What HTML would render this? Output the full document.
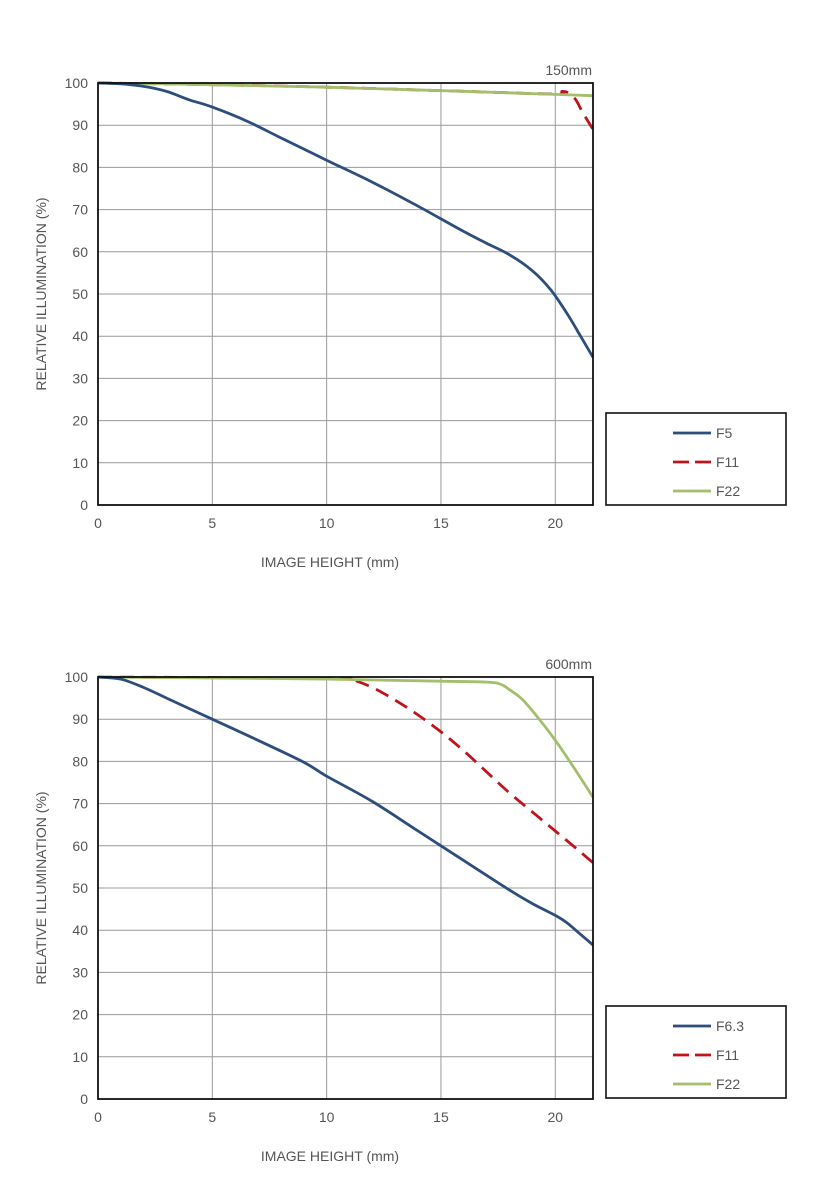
<!DOCTYPE html>
<html><head><meta charset="utf-8">
<style>
html,body{margin:0;padding:0;background:#fff;width:814px;height:1200px;overflow:hidden}
svg{display:block}
text{font-family:"Liberation Sans",sans-serif;fill:#555}
</style></head>
<body>
<svg id="svg" width="814" height="1200"></svg>
<script>
const xTicks=[0,5,10,15,20];
const yTicks=[0,10,20,30,40,50,60,70,80,90,100];
// Chart 1 (150mm)
const c1Labels=["F5","F11","F22"];
const c1F5x=[0,1,2,3,4,5,6.5,8,10,12,14,15,16,17,18,19,19.8,20.5,21,21.65];
const c1F5y=[100,99.8,99.2,98,96,94.3,91,87,81.7,76.5,70.8,67.8,64.8,62,59.3,55.5,51,45.5,41,35];
const c1F11x=[0,5,10,15,19.9,20.3,20.6,20.9,21.2,21.65];
const c1F11y=[100,99.6,99,98.2,97.4,98,97.6,96,93,89];
const c1F22x=[0,5,10,15,20,21.65];
const c1F22y=[100,99.6,99,98.2,97.3,97];
// Chart 2 (600mm)
const c2Labels=["F6.3","F11","F22"];
const c2F6x=[0,1,2,3,5,7,9,10,12,14,16,18,19,20,20.5,21,21.65];
const c2F6y=[100,99.5,97.5,95,90,85,79.8,76.5,70.5,63.5,56.5,49.5,46.3,43.5,41.8,39.5,36.5];
const c2F11x=[0,10,11,12,13,14,15,16,17,18,19,20,21,21.65];
const c2F11y=[100,99.7,99.5,97.5,94.5,91,87,82.5,77.5,72.5,68,63.5,59,56];
const c2F22x=[0,10,15,17,17.6,18,18.5,19,20,21,21.65];
const c2F22y=[100,99.5,99,98.8,98.3,97,95,92,85,77,71.5];

const NS="http://www.w3.org/2000/svg";
const svg=document.getElementById('svg');
const colors=["#2d4e7c","#c0141c","#a3bf6b"];
function mk(tag,attrs,parent){const e=document.createElementNS(NS,tag);for(const k in attrs)e.setAttribute(k,attrs[k]);(parent||svg).appendChild(e);return e;}
function pathD(xs,ys,sx,sy){
  const p=xs.map((x,i)=>[sx(x),sy(ys[i])]);
  let d="M"+p[0][0]+","+p[0][1];
  for(let i=0;i<p.length-1;i++){
    const p0=p[i-1]||p[i],p1=p[i],p2=p[i+1],p3=p[i+2]||p[i+1];
    const c1=[p1[0]+(p2[0]-p0[0])/6,p1[1]+(p2[1]-p0[1])/6];
    const c2=[p2[0]-(p3[0]-p1[0])/6,p2[1]-(p3[1]-p1[1])/6];
    d+=" C"+c1[0].toFixed(1)+","+c1[1].toFixed(1)+" "+c2[0].toFixed(1)+","+c2[1].toFixed(1)+" "+p2[0].toFixed(1)+","+p2[1].toFixed(1);
  }
  return d;
}
function chart(top,bottom,focal,labels,series,legTop){
  const g=mk('g',{});
  
  
  const x0=98,x1=593,xmax=21.65;
  const sx=v=>x0+v*(x1-x0)/xmax;
  const sy=v=>bottom-v*(bottom-top)/100;
  yTicks.forEach(t=>{
    const l=mk('line',{x1:x0,x2:x1,y1:sy(t),y2:sy(t),stroke:"#999","stroke-width":1},g);
    
    
    const tx=mk('text',{x:x0-10,y:sy(t)+5,"text-anchor":"end","font-size":14},g);
    tx.textContent=t;
    
    
  });
  xTicks.forEach(t=>{
    const l=mk('line',{x1:sx(t),x2:sx(t),y1:top,y2:bottom,stroke:"#999","stroke-width":1},g);
    
    
    const tx=mk('text',{x:sx(t),y:bottom+23,"text-anchor":"middle","font-size":14},g);
    tx.textContent=t;
    
    
  });
  [1,2,0].forEach(i=>{
    const s=series[i];
    const p=mk('path',{d:pathD(s[0],s[1],sx,sy),fill:"none",stroke:colors[i],"stroke-width":2.8,"stroke-dasharray":i==1?"14,8":"none"},g);
    
    
  });
  const fr=mk('rect',{x:x0,y:top,width:x1-x0,height:bottom-top,fill:"none",stroke:"#111","stroke-width":1.8},g);
  
  
  const ft=mk('text',{x:x1-1,y:top-8,"text-anchor":"end","font-size":14,fill:"#444"},g);
  ft.textContent=focal;
  
  
  const xt=mk('text',{x:330,y:bottom+62,"text-anchor":"middle","font-size":14},g);
  xt.textContent="IMAGE HEIGHT (mm)";
  
  
  const cy=(top+bottom)/2;
  const yt=mk('text',{x:0,y:0,transform:"translate(46,"+cy+") rotate(-90)","text-anchor":"middle","font-size":14},g);
  yt.textContent="RELATIVE ILLUMINATION (%)";
  
  
  const lg=mk('g',{},g);
  
  
  mk('rect',{x:606,y:legTop,width:180,height:92,fill:"#fff",stroke:"#111","stroke-width":1.6},lg);
  labels.forEach((lb,i)=>{
    const y=legTop+20+i*29;
    const ll=mk('line',{x1:673,x2:711,y1:y,y2:y,stroke:colors[i],"stroke-width":2.8,"stroke-dasharray":i==1?"16,6":"none"},lg);
    
    
    const t=mk('text',{x:716,y:y+5,"font-size":14},lg);
    t.textContent=lb;
    
    
  });
}
chart(83,505,"150mm",c1Labels,[[c1F5x,c1F5y],[c1F11x,c1F11y],[c1F22x,c1F22y]],413);
chart(677,1099,"600mm",c2Labels,[[c2F6x,c2F6y],[c2F11x,c2F11y],[c2F22x,c2F22y]],1006);
</script>
</body></html>
